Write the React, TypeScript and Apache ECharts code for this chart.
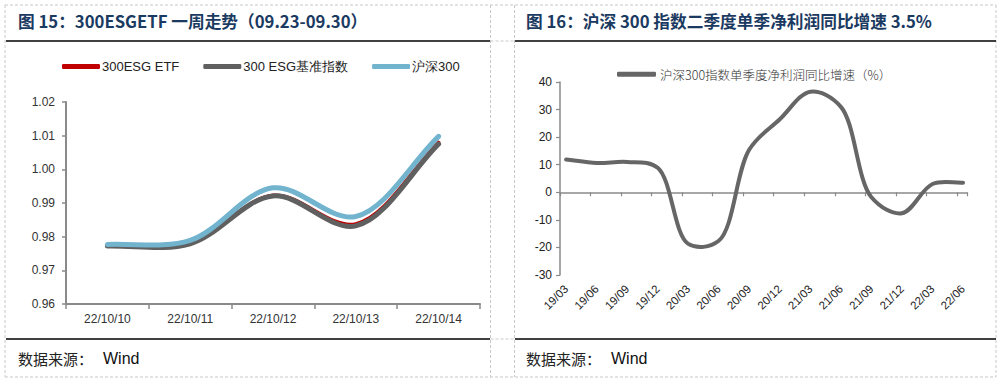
import React, { useEffect, useRef } from "react";
import * as echarts from "echarts";

// ---- Left chart data (Fig. 15) ----
const weekDates = ["22/10/10", "22/10/11", "22/10/12", "22/10/13", "22/10/14"];
const etfValues = [0.9775, 0.9781, 0.9923, 0.9838, 1.008];
const benchValues = [0.9772, 0.9779, 0.9921, 0.9832, 1.0075];
const hs300Values = [0.9777, 0.9789, 0.9945, 0.986, 1.0098];
const leftYTicks = { min: 0.96, max: 1.02, interval: 0.01 };

// ---- Right chart data (Fig. 16) ----
const quarters = [
  "19/03", "19/06", "19/09", "19/12", "20/03", "20/06", "20/09",
  "20/12", "21/03", "21/06", "21/09", "21/12", "22/03", "22/06",
];
const profitGrowth = [11.9, 10.6, 11.0, 8.9, -18.7, -17.6, 15.5, 26.5, 36.5, 31.0, -1.8, -7.6, 3.0, 3.5];
const rightYTicks = { min: -30, max: 40, interval: 10 };

const seriesNames = ["300ESG ETF", "300 ESG基准指数", "沪深300"];
const rightSeriesName = "沪深300指数单季度净利润同比增速（%）";

const title1 = "图 15：300ESGETF 一周走势（09.23-09.30）";
const title2 = "图 16：沪深 300 指数二季度单季净利润同比增速 3.5%";

// Centripetal Catmull-Rom spline through pixel points, as cubic Bezier path
function splinePath(p: number[][]): string {
  const n = p.length;
  const a = 0.5;
  const get = (i: number) =>
    i < 0 ? [2 * p[0][0] - p[1][0], 2 * p[0][1] - p[1][1]]
      : i >= n ? [2 * p[n - 1][0] - p[n - 2][0], 2 * p[n - 1][1] - p[n - 2][1]]
        : p[i];
  const f = (v: number) => v.toFixed(2);
  let d = `M${f(p[0][0])},${f(p[0][1])}`;
  for (let i = 0; i < n - 1; i++) {
    const P0 = get(i - 1), P1 = p[i], P2 = p[i + 1], P3 = get(i + 2);
    const l1 = Math.max(Math.hypot(P1[0] - P0[0], P1[1] - P0[1]), 1e-6);
    const l2 = Math.max(Math.hypot(P2[0] - P1[0], P2[1] - P1[1]), 1e-6);
    const l3 = Math.max(Math.hypot(P3[0] - P2[0], P3[1] - P2[1]), 1e-6);
    const d1 = Math.pow(l1, a), d2 = Math.pow(l2, a), d3 = Math.pow(l3, a);
    const d1s = d1 * d1, d2s = d2 * d2, d3s = d3 * d3;
    const b1 = [0, 1].map(
      (k) => (d1s * P2[k] - d2s * P0[k] + (2 * d1s + 3 * d1 * d2 + d2s) * P1[k]) / (3 * d1 * (d1 + d2))
    );
    const b2 = [0, 1].map(
      (k) => (d3s * P1[k] - d2s * P3[k] + (2 * d3s + 3 * d3 * d2 + d2s) * P2[k]) / (3 * d3 * (d3 + d2))
    );
    d += ` C${f(b1[0])},${f(b1[1])} ${f(b2[0])},${f(b2[1])} ${f(P2[0])},${f(P2[1])}`;
  }
  return d;
}

function smoothSeries(name: string, values: number[], color: string, width: number, axis: number) {
  const data = values.map((v, i) => [i, v]);
  return {
    name, type: "custom", xAxisIndex: axis, yAxisIndex: axis,
    encode: { x: 0, y: 1 },
    data,
    itemStyle: { color },
    color,
    renderItem: (params: any, api: any) => {
      if (params.dataIndex !== 0) return null;
      const px = data.map((d) => api.coord(d));
      return {
        type: "path",
        shape: { pathData: splinePath(px) },
        style: { stroke: color, lineWidth: width, fill: "none", lineCap: "round", lineJoin: "round" },
        silent: true,
      };
    },
  };
}

export default function App() {
  const ref = useRef<HTMLDivElement>(null);
  useEffect(() => {
    document.body.style.margin = "0";
    const chart = echarts.init(ref.current!, null, { renderer: "svg" });
    const titleColor = "#1B3A61";
    const dashStyle = { stroke: "#c8c8c8", lineWidth: 1, lineDash: [3, 2] };
    const solid = { stroke: "#000", lineWidth: 1.5 };
    const axisGray = "#8a8a8a";
    const latin = "'Liberation Sans', Arial, sans-serif";
    const cjk = "'Noto Sans CJK SC', sans-serif";

    const hline = (x1: number, x2: number, y: number, style: any) => ({
      type: "line", shape: { x1, y1: y, x2, y2: y }, style, silent: true,
    });
    const vline = (x: number, y1: number, y2: number, style: any) => ({
      type: "line", shape: { x1: x, y1, x2: x, y2 }, style, silent: true,
    });
    const source = (x: number) => ({
      type: "text", x, y: 358,
      style: {
        text: "{a|数据来源：}{b|Wind}",
        verticalAlign: "middle",
        rich: {
          a: { fontFamily: cjk, fontSize: 15, fill: "#222", padding: [0, 10, 0, 0] },
          b: { fontFamily: latin, fontSize: 16, fill: "#111" },
        },
      },
    });
    const titleText = (x: number, text: string) => ({
      type: "text", x, y: 21,
      style: { text, fontFamily: cjk, fontWeight: "bold", fontSize: 16.7, fill: titleColor, verticalAlign: "middle" },
    });

    chart.setOption({
      animation: false,
      graphic: [
        hline(5, 996, 5, dashStyle),
        hline(5, 996, 377, dashStyle),
        vline(5, 5, 377, dashStyle),
        vline(490.5, 5, 377, dashStyle),
        vline(514.5, 5, 377, dashStyle),
        vline(996, 5, 377, dashStyle),
        hline(490.5, 514.5, 41, dashStyle),
        hline(490.5, 514.5, 339, dashStyle),
        hline(6, 490, 41, solid),
        hline(515, 996, 41, solid),
        hline(6, 490, 339, solid),
        hline(515, 996, 339, solid),
        titleText(18, title1),
        titleText(526, title2),
        source(18),
        source(526),
      ],
      legend: [
        {
          left: 62, top: 60, padding: 0, icon: "roundRect", itemWidth: 38, itemHeight: 5, itemGap: 24,
          data: seriesNames,
          textStyle: { fontFamily: latin, fontSize: 13, color: "#222", padding: [0, 0, 0, -3] },
        },
        {
          left: 617, top: 68, padding: 0, icon: "roundRect", itemWidth: 39, itemHeight: 5,
          data: [rightSeriesName],
          textStyle: { fontFamily: cjk, fontSize: 12.5, color: "#333", fontWeight: 300, padding: [0, 0, 0, -1] },
        },
      ],
      grid: [
        { left: 66, top: 102, width: 414, height: 202 },
        { left: 560, top: 82, width: 407, height: 193 },
      ],
      xAxis: [
        {
          type: "category", gridIndex: 0, data: weekDates, boundaryGap: true,
          axisLine: { lineStyle: { color: axisGray, width: 2 } },
          axisTick: { show: true, length: 5, lineStyle: { color: axisGray, width: 1.5 } },
          axisLabel: { color: "#333", fontFamily: latin, fontSize: 12, margin: 9 },
          splitLine: { show: false },
        },
        {
          type: "value", gridIndex: 1, min: -0.2, max: 13.13, interval: 1,
          axisLine: { onZero: true, lineStyle: { color: axisGray, width: 1.5 } },
          axisTick: { show: true, length: 4, inside: false, lineStyle: { color: axisGray, width: 1.2 } },
          axisLabel: { show: false },
          splitLine: { show: false },
        },
        {
          type: "value", gridIndex: 1, min: -0.2, max: 13.13, position: "bottom",
          axisLine: { show: false, onZero: false },
          axisTick: { show: false },
          splitLine: { show: false },
          axisLabel: {
            show: true, rotate: 45, margin: 12, color: "#222", fontFamily: latin, fontSize: 11.5,
            customValues: quarters.map((_, i) => i),
            formatter: (v: number) => quarters[Math.round(v)] ?? "",
          },
        },
      ],
      yAxis: [
        {
          type: "value", gridIndex: 0, ...leftYTicks,
          axisLine: { show: true, lineStyle: { color: axisGray, width: 2 } },
          axisTick: { show: true, length: 4, lineStyle: { color: axisGray, width: 1.5 } },
          axisLabel: { color: "#333", fontFamily: latin, fontSize: 12, margin: 11, formatter: (v: number) => v.toFixed(2) },
          splitLine: { show: false },
        },
        {
          type: "value", gridIndex: 1, ...rightYTicks,
          axisLine: { show: true, onZero: false, lineStyle: { color: axisGray, width: 1.5 } },
          axisTick: { show: true, length: 4, lineStyle: { color: axisGray, width: 1.2 } },
          axisLabel: { color: "#222", fontFamily: latin, fontSize: 12, margin: 8 },
          splitLine: { show: false },
        },
      ],
      series: [
        smoothSeries(seriesNames[0], etfValues, "#C00000", 3.5, 0),
        smoothSeries(seriesNames[1], benchValues, "#606060", 5, 0),
        smoothSeries(seriesNames[2], hs300Values, "#72B3CE", 5, 0),
        smoothSeries(rightSeriesName, profitGrowth, "#666666", 4, 1),
      ],
    });
    return () => chart.dispose();
  }, []);
  return <div ref={ref} style={{ width: 1004, height: 380 }} />;
}
